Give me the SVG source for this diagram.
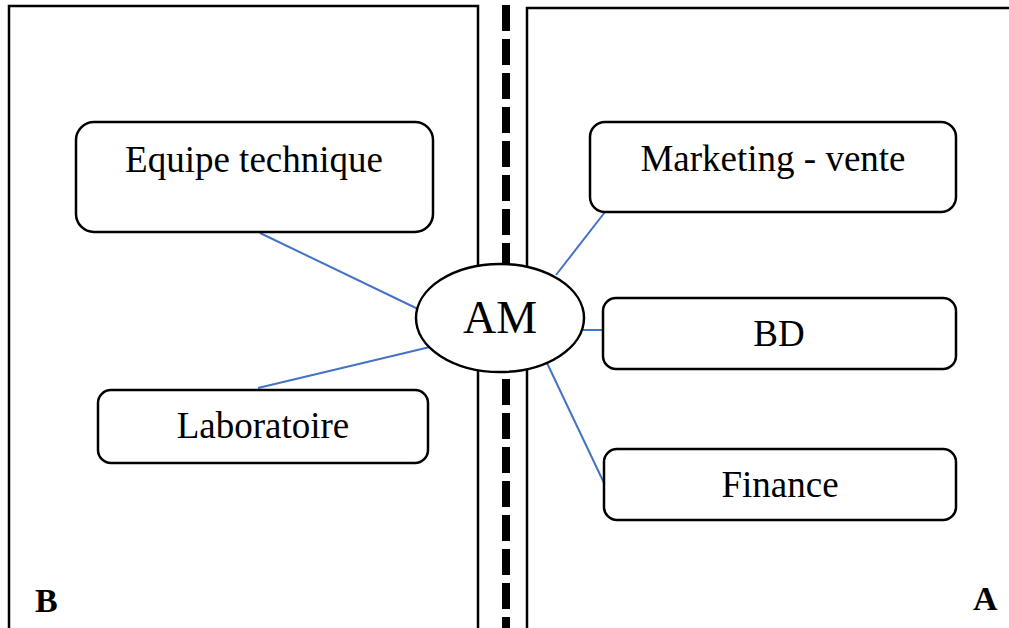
<svg xmlns="http://www.w3.org/2000/svg" width="1009" height="628" viewBox="0 0 1009 628">
<style>
.panel{fill:none;stroke:#000;stroke-width:2.5}
.box{fill:#fff;stroke:#000;stroke-width:2.5}
.lbl{font-family:"Liberation Serif","Times New Roman",serif;font-size:37px;fill:#000;text-anchor:middle}
.big{font-family:"Liberation Serif","Times New Roman",serif;font-size:34px;font-weight:bold;fill:#000}
.conn{stroke:#4472C4;stroke-width:2;fill:none}
</style>
<rect width="1009" height="628" fill="#fff"/>
<g id="panel-B">
<rect class="panel" x="9" y="6" width="469" height="630"/>
<text class="big" x="35" y="612">B</text>
</g>
<g id="panel-A">
<rect class="panel" x="527" y="8" width="500" height="630"/>
<text class="big" x="973" y="610">A</text>
</g>
<g id="divider">
<line x1="506" y1="5" x2="506" y2="628" stroke="#000" stroke-width="8" stroke-dasharray="26 8"/>
</g>
<g id="connectors">
<line class="conn" x1="260" y1="233" x2="418" y2="309"/>
<line class="conn" x1="258" y1="388" x2="430" y2="347"/>
<line class="conn" x1="556" y1="275" x2="605" y2="212"/>
<line class="conn" x1="583" y1="330" x2="603" y2="330"/>
<line class="conn" x1="547" y1="363" x2="604" y2="483"/>
</g>
<g id="node-am">
<ellipse class="box" cx="500" cy="318" rx="84" ry="54"/>
<text class="lbl" x="500" y="333" style="font-size:46px">AM</text>
</g>
<g id="node-equipe">
<rect class="box" x="76" y="122" width="357" height="110" rx="18"/>
<text class="lbl" x="254" y="172">Equipe technique</text>
</g>
<g id="node-labo">
<rect class="box" x="98" y="390" width="330" height="73" rx="13"/>
<text class="lbl" x="263" y="438">Laboratoire</text>
</g>
<g id="node-marketing">
<rect class="box" x="590" y="122" width="366" height="90" rx="15"/>
<text class="lbl" x="773" y="171">Marketing - vente</text>
</g>
<g id="node-bd">
<rect class="box" x="603" y="298" width="353" height="71" rx="13"/>
<text class="lbl" x="779" y="346">BD</text>
</g>
<g id="node-finance">
<rect class="box" x="604" y="449" width="352" height="71" rx="13"/>
<text class="lbl" x="780" y="497">Finance</text>
</g>
</svg>
